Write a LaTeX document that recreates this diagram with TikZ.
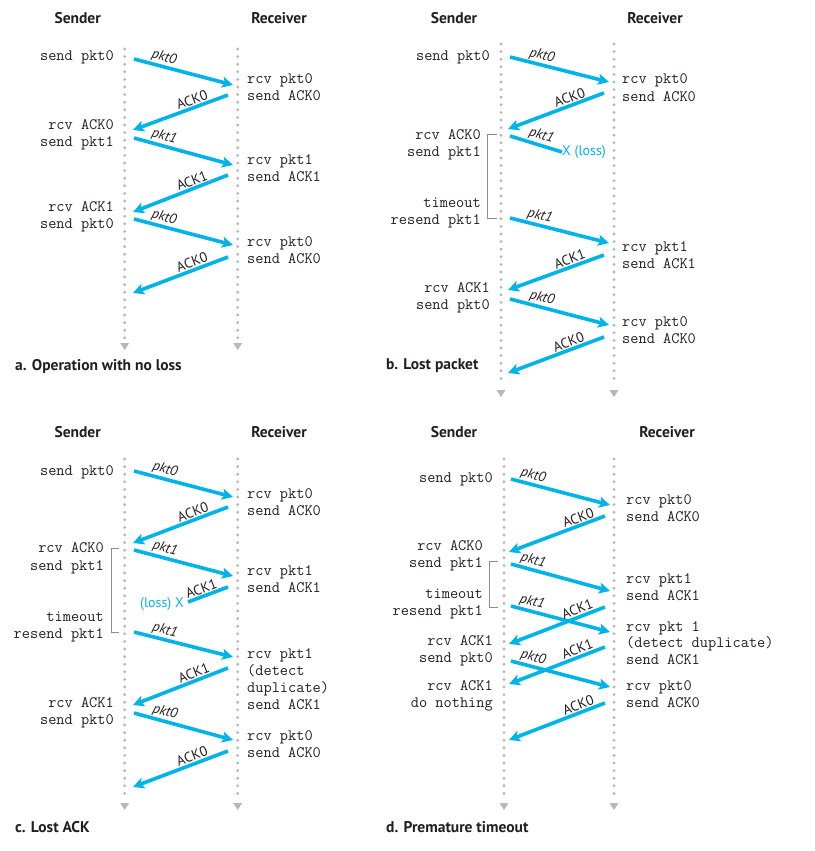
\documentclass[tikz,border=0pt]{standalone}
\usepackage{fontspec}
\setmainfont{PT Sans}
\setsansfont{PT Sans}
\usetikzlibrary{arrows.meta,calc}
\definecolor{pcyan}{HTML}{00B4EA}
\definecolor{tlgray}{HTML}{B8B8B8}
\definecolor{brgray}{HTML}{8C8C8C}
\definecolor{txt}{HTML}{231F20}
\newcommand\timeln[3]{%
  \draw[tl] (#1,#2) -- (#1,#3);
  \fill[tlgray] ($(#1,#3)+(-4.5,5)$) -- ($(#1,#3)+(4.5,5)$) -- ($(#1,#3)+(0,12)$) -- cycle;}
% \msgp{name}{x1}{y1}{x2}{y2}{pos}{label}
\newcommand\msgp[7]{%
  \coordinate (#1s) at (#2,#3); \coordinate (#1e) at (#4,#5);
  \draw[msg] (#1s) -- node[lbl,pos=#6] {#7} (#1e);}
\newcommand\msga[7]{%
  \coordinate (#1s) at (#2,#3); \coordinate (#1e) at (#4,#5);
  \draw[msg] (#1s) -- node[alb,pos=#6] {#7} (#1e);}
\newcommand\sndr[4]{\node[se] (#1) at (#2,#3) {#4};}
\newcommand\rcvr[4]{\node[rw] (#1) at (#2,#3) {#4};}
\begin{document}
\begin{tikzpicture}[x=1pt,y=-1pt,
 msg/.style={draw=pcyan,line width=3.6pt,-{Stealth[length=11pt,width=11pt,inset=2.5pt]}},
 lostmsg/.style={draw=pcyan,line width=3.6pt},
 lbl/.style={font=\fontsize{14}{16}\selectfont\sffamily\itshape,inner sep=1pt,text=txt,sloped,above},
 alb/.style={font=\fontsize{14}{16}\selectfont\sffamily,inner sep=1pt,text=txt,sloped,above},
 mono/.style={font=\fontsize{15.9}{17}\selectfont\ttfamily,inner sep=0pt,text=txt},
 se/.style={mono,anchor=base east},
 rw/.style={mono,anchor=base west},
 head/.style={font=\fontsize{15.5}{18}\selectfont\bfseries,text=txt},
 captxt/.style={font=\fontsize{15.5}{18}\selectfont\bfseries,anchor=west,inner sep=0pt,text=txt},
 tl/.style={draw=tlgray,line width=3.2pt,line cap=round,dash pattern=on 0pt off 7.6pt},
 brk/.style={draw=brgray,line width=0.9pt},
 loss/.style={font=\fontsize{14}{16}\selectfont\sffamily,text=pcyan,inner sep=0pt}
]
\useasboundingbox[fill=white] (0,0) rectangle (814,851);

%% ---------------- panel a ----------------
\node[head] (aS) at (77.7,18) {Sender};
\node[head] (aR) at (279,18) {Receiver};
\timeln{124.7}{49}{338}
\timeln{237.7}{49}{338}
\msgp{a1}{134}{59}{233}{85}{.28}{pkt0}
\msga{a2}{228}{95}{133}{130}{.35}{ACK0}
\msgp{a3}{134}{138}{233}{165}{.28}{pkt1}
\msga{a4}{228}{175}{133}{212}{.35}{ACK1}
\msgp{a5}{134}{219}{233}{245}{.28}{pkt0}
\msga{a6}{228}{257}{133}{293}{.35}{ACK0}
\sndr{as1}{114}{61}{send pkt0}
\sndr{as2}{114}{129}{rcv ACK0}
\sndr{as3}{114}{146}{send pkt1}
\sndr{as4}{114}{211}{rcv ACK1}
\sndr{as5}{114}{228}{send pkt0}
\rcvr{ar1}{247}{83}{rcv pkt0}
\rcvr{ar2}{247}{100}{send ACK0}
\rcvr{ar3}{247}{164}{rcv pkt1}
\rcvr{ar4}{247}{181}{send ACK1}
\rcvr{ar5}{247}{246}{rcv pkt0}
\rcvr{ar6}{247}{263}{send ACK0}
\node[captxt] (acap) at (15,367) {a. Operation with no loss};

%% ---------------- panel b ----------------
\node[head] (bS) at (454,18) {Sender};
\node[head] (bR) at (655,18) {Receiver};
\timeln{501}{44}{385}
\timeln{614}{44}{385}
\msgp{b1}{510}{57}{609}{82}{.30}{pkt0}
\msga{b2}{604}{93}{508}{129}{.33}{ACK0}
\coordinate (b3s) at (510,136);
\node[loss,anchor=west] (bx) at (562,152) {X (loss)};
\draw[lostmsg] (b3s) -- node[lbl,pos=.55] {pkt1} (bx.west);
\msgp{b4}{510}{218}{609}{243}{.28}{pkt1}
\msga{b5}{604}{255}{508}{290}{.33}{ACK1}
\msgp{b6}{510}{299}{609}{325}{.30}{pkt0}
\msga{b7}{604}{337}{508}{373}{.34}{ACK0}
\sndr{bs1}{490}{61}{send pkt0}
\sndr{bs2}{481}{139}{rcv ACK0}
\sndr{bs3}{481}{156}{send pkt1}
\sndr{bs4}{481}{207}{timeout}
\sndr{bs5}{481}{224}{resend pkt1}
\sndr{bs6}{490}{292}{rcv ACK1}
\sndr{bs7}{490}{309}{send pkt0}
\draw[brk] (497,134) -- (487,134) -- (487,218) -- (497,218);
\rcvr{br1}{622}{84}{rcv pkt0}
\rcvr{br2}{622}{101}{send ACK0}
\rcvr{br3}{622}{251}{rcv pkt1}
\rcvr{br4}{622}{268}{send ACK1}
\rcvr{br5}{622}{326}{rcv pkt0}
\rcvr{br6}{622}{343}{send ACK0}
\node[captxt] (bcap) at (386,366) {b. Lost packet};

%% ---------------- panel c ----------------
\node[head] (cS) at (77.7,432) {Sender};
\node[head] (cR) at (279,432) {Receiver};
\timeln{124.7}{459}{798}
\timeln{237.7}{459}{798}
\msgp{c1}{134}{471}{233}{497}{.29}{pkt0}
\msga{c2}{228}{507}{133}{543}{.34}{ACK0}
\msgp{c3}{134}{550}{233}{576}{.29}{pkt1}
\coordinate (c4s) at (228,587);
\node[loss,anchor=east] (cx) at (184,604) {(loss) X};
\draw[lostmsg] (c4s) -- node[alb,pos=.6] {ACK1} ($(cx.east)+(4,-2)$);
\msgp{c5}{134}{632}{233}{657}{.29}{pkt1}
\msga{c6}{228}{668}{133}{705}{.33}{ACK1}
\msgp{c7}{134}{713}{233}{740}{.29}{pkt0}
\msga{c8}{228}{751}{133}{787}{.35}{ACK0}
\sndr{cs1}{114}{475}{send pkt0}
\sndr{cs2}{104}{552}{rcv ACK0}
\sndr{cs3}{104}{570}{send pkt1}
\sndr{cs4}{104}{621}{timeout}
\sndr{cs5}{104}{638}{resend pkt1}
\sndr{cs6}{114}{707}{rcv ACK1}
\sndr{cs7}{114}{724}{send pkt0}
\draw[brk] (119,548) -- (111,548) -- (111,632) -- (119,632);
\rcvr{cr1}{247}{498}{rcv pkt0}
\rcvr{cr2}{247}{515}{send ACK0}
\rcvr{cr3}{247}{575}{rcv pkt1}
\rcvr{cr4}{247}{592}{send ACK1}
\rcvr{cr5}{247}{658}{rcv pkt1}
\rcvr{cr6}{247}{675}{(detect}
\rcvr{cr7}{247}{692}{duplicate)}
\rcvr{cr8}{247}{709}{send ACK1}
\rcvr{cr9}{247}{740}{rcv pkt0}
\rcvr{cr10}{247}{757}{send ACK0}
\node[captxt] (ccap) at (15,827) {c. Lost ACK};

%% ---------------- panel d ----------------
\node[head] (dS) at (454,432) {Sender};
\node[head] (dR) at (667,432) {Receiver};
\timeln{504}{459}{798}
\timeln{614}{459}{798}
\msgp{d1}{511}{479}{610}{505}{.20}{pkt0}
\msga{d2}{605}{516}{509}{552}{.25}{ACK0}
\msgp{d3}{511}{564}{610}{591}{.20}{pkt1}
\msgp{d4}{511}{606}{610}{632}{.19}{pkt1}
\msga{d5}{605}{607}{509}{644}{.26}{ACK1}
\msga{d6}{605}{647}{509}{684}{.26}{ACK1}
\msgp{d7}{511}{661}{610}{687}{.20}{pkt0}
\msga{d8}{605}{703}{509}{740}{.25}{ACK0}
\sndr{ds1}{493}{482}{send pkt0}
\sndr{ds2}{483}{550}{rcv ACK0}
\sndr{ds3}{483}{567}{send pkt1}
\sndr{ds4}{483}{598}{timeout}
\sndr{ds5}{483}{615}{resend pkt1}
\sndr{ds6}{493}{645}{rcv ACK1}
\sndr{ds7}{493}{662}{send pkt0}
\sndr{ds8}{493}{690}{rcv ACK1}
\sndr{ds9}{493}{707}{do nothing}
\draw[brk] (498,561) -- (489,561) -- (489,607) -- (498,607);
\rcvr{dr1}{626}{504}{rcv pkt0}
\rcvr{dr2}{626}{521}{send ACK0}
\rcvr{dr3}{626}{583}{rcv pkt1}
\rcvr{dr4}{626}{600}{send ACK1}
\rcvr{dr5}{626}{631}{rcv pkt 1}
\rcvr{dr6}{626}{647}{(detect duplicate)}
\rcvr{dr7}{626}{664}{send ACK1}
\rcvr{dr8}{626}{690}{rcv pkt0}
\rcvr{dr9}{626}{707}{send ACK0}
\node[captxt] (dcap) at (386,827) {d. Premature timeout};
\end{tikzpicture}
\end{document}
